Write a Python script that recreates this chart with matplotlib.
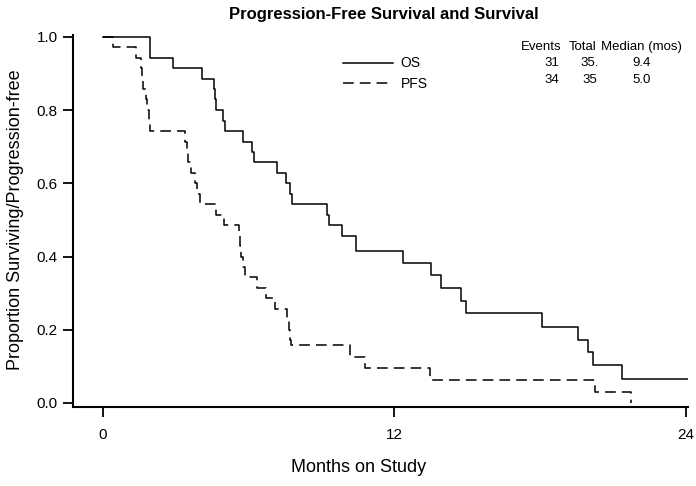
import matplotlib
matplotlib.use("Agg")
import matplotlib.pyplot as plt

# Kaplan-Meier steps (months, proportion)
os_time = [0, 1.93, 2.88, 4.08, 4.55, 4.6, 4.65, 4.95, 5.02, 5.76, 6.13, 6.2,
           7.16, 7.53, 7.7, 7.78, 9.22, 9.3, 9.84, 10.4, 12.35, 13.5, 13.92,
           14.74, 14.94, 18.1, 19.55, 20.0, 20.2, 21.4, 24.1]
os_surv = [1.0, 0.943, 0.914, 0.886, 0.857, 0.829, 0.80, 0.771, 0.743, 0.714,
           0.686, 0.657, 0.629, 0.60, 0.571, 0.543, 0.514, 0.486, 0.457,
           0.415, 0.383, 0.35, 0.314, 0.279, 0.246, 0.208, 0.172, 0.139,
           0.104, 0.066, 0.066]

pfs_time = [0, 0.41, 1.36, 1.55, 1.6, 1.65, 1.75, 1.8, 1.88, 1.93, 3.38, 3.45,
            3.5, 3.62, 3.8, 3.87, 4.0, 4.65, 4.98, 5.6, 5.65, 5.7, 5.76, 5.85,
            6.34, 6.71, 7.08, 7.58, 7.65, 7.7, 7.74, 10.17, 10.79, 13.46,
            20.25, 21.74]
pfs_surv = [1.0, 0.971, 0.943, 0.914, 0.886, 0.857, 0.829, 0.80, 0.771, 0.743,
            0.714, 0.686, 0.657, 0.629, 0.60, 0.571, 0.543, 0.514, 0.486,
            0.457, 0.429, 0.40, 0.371, 0.343, 0.314, 0.286, 0.257, 0.229,
            0.20, 0.171, 0.157, 0.126, 0.096, 0.063, 0.03, 0.0]

table_head = ["Events", "Total", "Median (mos)"]
table_rows = [["31", "35.", "9.4"], ["34", "35", "5.0"]]

plt.rcParams["font.family"] = ["Liberation Sans", "DejaVu Sans"]

fig = plt.figure(figsize=(6.96, 4.86), dpi=100)
W, H = 696, 486
ax = fig.add_axes([73 / W, 1 - 407 / H, (688 - 73) / W, (407 - 35) / H])

ax.step(os_time, os_surv, where="post", color="black", lw=1.1, label="OS")
ax.step(pfs_time, pfs_surv, where="post", color="black", lw=1.1,
        dashes=(7, 4), label="PFS")

ax.set_xlim(-1.24, 24.1)
ax.set_ylim(-0.011, 1.005)
ax.set_xticks([0, 12, 24])
ax.set_yticks([0.0, 0.2, 0.4, 0.6, 0.8, 1.0])
ax.set_yticklabels(["0.0", "0.2", "0.4", "0.6", "0.8", "1.0"])
ax.tick_params(direction="out", length=7, width=1.3, labelsize=11, pad=4)
ax.tick_params(axis="x", pad=8)
for s in ["top", "right"]:
    ax.spines[s].set_visible(False)
for s in ["left", "bottom"]:
    ax.spines[s].set_linewidth(1.5)

fig.text(384 / W, 1 - 14 / H, "Progression-Free Survival and Survival",
         ha="center", va="center", fontsize=12, fontweight="bold")
fig.text(359 / W, 1 - 468 / H, "Months on Study", ha="center", va="center",
         fontsize=13)
fig.text(16 / W, 1 - 220 / H, "Proportion Surviving/Progression-free",
         ha="center", va="center", fontsize=13, rotation=90)

ax.legend(loc="upper left", bbox_to_anchor=(258 / 615, 0.976), frameon=False,
          fontsize=10, handlelength=3.6, handletextpad=0.5, labelspacing=0.45)

# summary table
col_x = [541, 583, 641]
for x, t in zip(col_x, table_head):
    fig.text(x / W, 1 - 47 / H, t, ha="center", va="center", fontsize=9.5)
row_x = [552, 590, 642]
for j, row in enumerate(table_rows):
    y = 63 + j * 17
    for x, t in zip(row_x, row):
        fig.text(x / W, 1 - y / H, t, ha="center", va="center", fontsize=9.5)

fig.savefig("out.png", dpi=100)
